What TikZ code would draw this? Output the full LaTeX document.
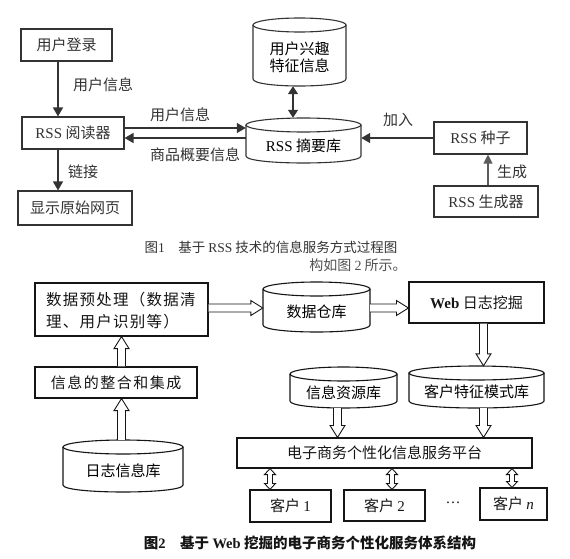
\documentclass[tikz,border=0pt]{standalone}
\usepackage{fontspec}
\setmainfont{Noto Sans CJK SC}
\newfontfamily\lat{Liberation Serif}
\newfontfamily\cjkls[LetterSpace=8]{Noto Sans CJK SC}
\newfontfamily\cjkxl[LetterSpace=10]{Noto Sans CJK SC}
\usetikzlibrary{arrows.meta,calc}
\definecolor{inkA}{HTML}{333333}
\definecolor{inkB}{HTML}{151515}
\tikzset{
  boxA/.style={draw=inkA, line width=1.1pt, inner sep=0, text=inkA},
  boxB/.style={draw=inkB, line width=1.1pt, inner sep=0, text=inkB},
  cylA/.style={draw=inkA, line width=1.1pt},
  cylB/.style={draw=inkB, line width=1.1pt},
  farr/.style={draw=inkA, line width=1.4pt, -{Triangle[length=9pt,width=10pt]}},
  farr2/.style={draw=inkA, line width=1.4pt, {Triangle[length=8pt,width=10pt]}-{Triangle[length=8pt,width=10pt]}},
  farr3/.style={draw=inkA!80, line width=1.1pt, -{Triangle[length=9pt,width=9pt]}},
  hol/.style={draw=inkB, line width=0.9pt, fill=white, line join=miter},
  lbl/.style={text=inkA, inner sep=0},
}
% box: [style]{name}{l}{t}{r}{b}{text}
\newcommand\bx[7][boxA]{%
  \node[#1, minimum width={(#5-#3)*1pt}, minimum height={(#6-#4)*1pt}, align=center]
    (#2) at ({(#3+#5)/2},{(#4+#6)/2}) {#7};}
% cylinder: [style]{name}{l}{t}{r}{b}{text}
\newcommand\cyl[7][cylA]{%
  \draw[#1] ({(#3+#5)/2},{#4+7}) ellipse [x radius={(#5-#3)/2*1pt}, y radius=7pt];
  \draw[#1] (#3,{#4+7}) -- (#3,{#6-7}) .. controls (#3,{#6+7/3}) and (#5,{#6+7/3}) .. (#5,{#6-7}) -- (#5,{#4+7});
  \node[inner sep=0, minimum width={(#5-#3)*1pt}, minimum height={(#6-#4)*1pt}] (#2) at ({(#3+#5)/2},{(#4+#6)/2}) {};
  \node[align=center, inner sep=0] (#2-t) at ({(#3+#5)/2},{(#4+#6)/2+5}) {#7};}
% hollow arrow
\newcommand\harrow[2]{%
  \path (#1) coordinate (hS) (#2) coordinate (hE);
  \path ($(hE)!12pt!(hS)$) coordinate (hA);
  \draw[hol] ($(hS)!4pt!90:(hE)$) -- ($(hA)!4pt!90:(hE)$) -- ($(hA)!7.5pt!90:(hE)$) -- (hE)
     -- ($(hA)!7.5pt!-90:(hE)$) -- ($(hA)!4pt!-90:(hE)$) -- ($(hS)!4pt!-90:(hE)$);}
% hollow double-headed arrow
\newcommand\hdarrow[2]{%
  \path (#1) coordinate (hS) (#2) coordinate (hE);
  \path ($(hS)!6pt!(hE)$) coordinate (hA) ($(hE)!6pt!(hS)$) coordinate (hB);
  \draw[hol] (hS) -- ($(hA)!5.5pt!90:(hE)$) -- ($(hA)!2.5pt!90:(hE)$) -- ($(hB)!2.5pt!90:(hE)$)
     -- ($(hB)!5.5pt!90:(hE)$) -- (hE) -- ($(hB)!5.5pt!-90:(hE)$) -- ($(hB)!2.5pt!-90:(hE)$)
     -- ($(hA)!2.5pt!-90:(hE)$) -- ($(hA)!5.5pt!-90:(hE)$) -- cycle;}
\begin{document}
\begin{tikzpicture}[x=1pt, y=-1pt, font=\fontsize{15pt}{18pt}\selectfont]
\useasboundingbox[fill=white] (0,0) rectangle (570,559);

% ---------- Figure 1 ----------
\bx{login}{21}{29}{112}{61}{用户登录}
\bx{reader}{22}{117}{124}{149}{{\lat RSS} 阅读器}
\bx{page}{18}{191}{132}{225}{显示原始网页}
\bx{seed}{434}{122}{527}{154}{{\lat RSS} 种子}
\bx{gen}{434}{186}{538}{217}{{\lat RSS} 生成器}
\cyl{interest}{253}{18}{346}{86}{用户兴趣\\[-1pt]特征信息}
\cyl{sumdb}{246}{118}{361}{163}{{\lat RSS} 摘要库}

\draw[farr] ([xshift=-8.5pt]login.south) -- ([xshift=-8.5pt]login.south |- reader.north);
\draw[farr] ([xshift=-15pt]reader.south) -- ([xshift=-15pt]reader.south |- page.north);
\draw[farr] ([yshift=5pt]reader.east) -- ([yshift=5pt]reader.east -| sumdb.west);
\draw[farr] ([yshift=-5pt]reader.east -| sumdb.west) -- ([yshift=-5pt]reader.east);
\draw[farr2] ([xshift=-6.5pt]interest.south) -- ([xshift=-6.5pt]interest.south |- sumdb.north);
\draw[farr] (seed.west) -- (seed.west -| sumdb.east);
\draw[farr3] ([xshift=2pt]gen.north) -- ([xshift=2pt]gen.north |- seed.south);

\node[lbl] (l1) at (103,85) {用户信息};
\node[lbl] (l2) at (83,172) {链接};
\node[lbl] (l3) at (180,115) {用户信息};
\node[lbl] (l4) at (195,155) {商品概要信息};
\node[lbl] (l5) at (398,120) {加入};
\node[lbl] (l6) at (512,172) {生成};

\node[lbl, font=\fontsize{13.5pt}{16pt}\selectfont] (cap1) at (271,247)
  {图{\lat 1}\quad 基于 {\lat RSS} 技术的信息服务方式过程图};
\node[lbl, text=inkA!85, font=\fontsize{14pt}{16pt}\selectfont] (stray) at (358,265) {构如图 {\lat 2} 所示。};

% ---------- Figure 2 ----------
\bx[boxB]{prep}{35}{283}{208}{336}{}
\node[inner sep=0, anchor=west, align=left, text=inkB, font=\cjkls\fontsize{15.5pt}{22pt}\selectfont] (prep-t) at (46,311)
  {数据预处理（数据清\\理、用户识别等）};
\bx[boxB]{integ}{35}{367}{197}{398}{\cjkxl 信息的整合和集成}
\bx[boxB]{web}{409}{282}{544}{323}{{\lat\bfseries Web} 日志挖掘}
\bx[boxB]{plat}{237}{438}{532}{468}{电子商务个性化信息服务平台}
\bx[boxB]{c1}{250}{490}{331}{522}{客户 {\lat 1}}
\bx[boxB]{c2}{344}{490}{425}{521}{客户 {\lat 2}}
\bx[boxB]{cn}{480}{488}{547}{520}{客户 {\lat\itshape n}}
\node[lbl, text=inkB] (dots) at (453,503) {\lat …};
\cyl[cylB]{dw}{263}{282}{370}{332}{数据仓库}
\cyl[cylB]{logdb}{63}{440}{183}{492}{日志信息库}
\cyl[cylB]{info}{290}{367}{397}{408}{信息资源库}
\cyl[cylB]{feat}{409}{366}{544}{408}{客户特征模式库}

\harrow{prep.east |- 0,308}{dw.west |- 0,308}
\harrow{dw.east |- 0,308}{web.west |- 0,308}
\harrow{prep.south |- integ.north}{prep.south}
\harrow{prep.south |- logdb.north}{prep.south |- integ.south}
\harrow{[xshift=7pt]web.south}{[xshift=7pt]web.south |- feat.north}
\harrow{[xshift=-6pt]info.south}{[xshift=-6pt]info.south |- plat.north}
\harrow{[xshift=7pt]feat.south}{[xshift=7pt]feat.south |- plat.north}
\hdarrow{plat.south -| 270,0}{c1.north -| 270,0}
\hdarrow{plat.south -| 392,0}{c2.north -| 392,0}
\hdarrow{plat.south -| 512,0}{cn.north -| 512,0}

\node[lbl, text=inkB, font=\bfseries\fontsize{14.5pt}{17pt}\selectfont] (cap2) at (310,543)
  {图{\lat 2}\quad 基于 {\lat Web} 挖掘的电子商务个性化服务体系结构};
\end{tikzpicture}
\end{document}
